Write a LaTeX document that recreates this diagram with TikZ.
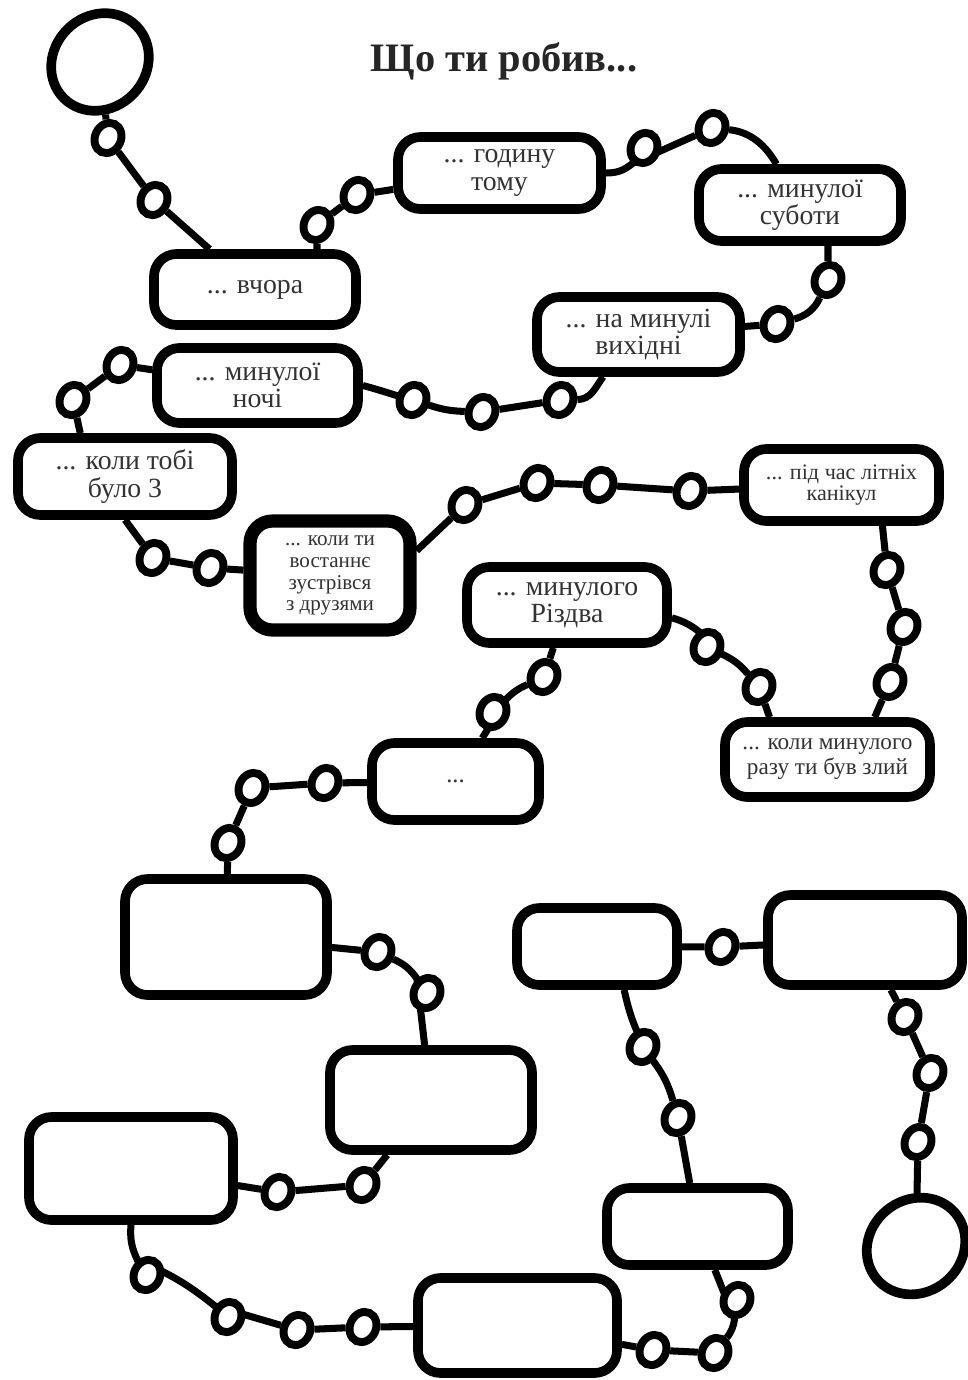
\documentclass[tikz,border=0pt]{standalone}
\usepackage{fontspec}
\setmainfont{Liberation Serif}
\usepackage{tikz}
\usetikzlibrary{shapes.geometric,backgrounds,calc}
\definecolor{InkGray}{HTML}{333333}

\begin{document}
\begin{tikzpicture}[
    tile/.style 2 args={
      draw,
      line width=5.5pt,
      fill=white,
      rounded corners=0.45cm,
      minimum width=#1cm,
      minimum height=#2cm,
      inner sep=0pt,
      align=center,
      text=InkGray,
      font=\fontsize{15.8}{15.5}\selectfont
    },
    stop/.style={
      ellipse,
      draw,
      line width=4.5pt,
      fill=white,
      minimum width=0.52cm,
      minimum height=0.62cm,
      inner sep=0pt,
      rotate=#1
    },
    stop/.default=-25,
    blob/.style={
      ellipse,
      draw,
      line width=5.5pt,
      fill=white,
      minimum width=2.05cm,
      minimum height=1.85cm,
      rotate=#1
    },
    link/.style={
      line width=4pt
    }
  ]

  \useasboundingbox (0,0) rectangle (19.34,-27.6);

  % Title
  \node[font=\bfseries\fontsize{23}{26}\selectfont, text=black!85, anchor=base] (title) at (10.08,-1.44) {Що ти робив...};

  % Start and finish
  \node[blob=45] (start)  at (2.00,-1.24)   {};
  \node[blob=40] (finish) at (18.32,-24.92) {};

  % Boxes with text
  \node[tile={4.04}{1.42}] (vchora)   at (5.10,-5.79)   {... вчора};
  \node[tile={4.06}{1.44}] (hodynu)   at (9.99,-3.46)   {... годину\\тому};
  \node[tile={4.04}{1.44}] (subota)   at (16.00,-4.10)  {... минулої\\суботи};
  \node[tile={4.06}{1.50}] (vykhidni) at (12.77,-6.69)  {... на минулі\\вихідні};
  \node[tile={4.02}{1.50}] (nich)     at (5.15,-7.71)   {... минулої\\ночі};
  \node[tile={4.28}{1.54}] (tobi)     at (2.50,-9.53)   {... коли тобі\\було 3};
  \node[tile={3.20}{2.18}, line width=7.5pt, font=\fontsize{12}{12.4}\selectfont]
                           (druzi)    at (6.60,-11.51)  {... коли ти\\востаннє\\зустрівся\\з друзями};
  \node[tile={3.90}{1.44}, font=\fontsize{12.6}{12.2}\selectfont]
                           (kanikuly) at (16.83,-9.70)  {... під час літніх\\канікул};
  \node[tile={4.10}{1.50}, font=\fontsize{13.2}{14.2}\selectfont]
                           (zlyi)     at (16.55,-15.19) {... коли минулого\\разу ти був злий};
  \node[tile={4.00}{1.52}] (rizdvo)   at (11.34,-12.10) {... минулого\\Різдва};
  \node[tile={3.34}{1.54}, font=\fontsize{14}{16}\selectfont]
                           (dali)     at (9.11,-15.63)  {...};

  % Empty boxes
  \node[tile={4.04}{2.32}] (emptyA) at (4.52,-18.74)  {};
  \node[tile={4.04}{2.00}] (emptyB) at (8.62,-22.00)  {};
  \node[tile={4.08}{2.06}] (emptyC) at (2.62,-23.37)  {};
  \node[tile={3.98}{1.90}] (emptyD) at (10.35,-26.51) {};
  \node[tile={3.62}{1.54}] (emptyE) at (13.95,-24.53) {};
  \node[tile={3.20}{1.54}] (emptyF) at (11.94,-18.93) {};
  \node[tile={3.88}{1.80}] (emptyG) at (17.30,-18.80) {};

  % Stepping stones
  \node[stop] (d1)  at (2.16,-2.76)   {};
  \node[stop] (d2)  at (3.08,-4.00)   {};
  \node[stop] (d3)  at (6.34,-4.50)   {};
  \node[stop] (d4)  at (7.14,-3.90)   {};
  \node[stop] (d5)  at (12.88,-2.96)  {};
  \node[stop] (d6)  at (14.24,-2.56)  {};
  \node[stop] (d7)  at (16.56,-5.60)  {};
  \node[stop] (d8)  at (15.54,-6.48)  {};
  \node[stop] (d9)  at (11.20,-8.00)  {};
  \node[stop] (d10) at (9.64,-8.24)   {};
  \node[stop] (d11) at (8.26,-8.00)   {};
  \node[stop] (d12) at (2.40,-7.30)   {};
  \node[stop] (d13) at (1.46,-8.00)   {};
  \node[stop] (d14) at (3.06,-11.16)  {};
  \node[stop] (d15) at (4.20,-11.36)  {};
  \node[stop] (d16) at (9.30,-10.10)  {};
  \node[stop] (d17) at (10.74,-9.66)  {};
  \node[stop] (d18) at (12.00,-9.70)  {};
  \node[stop] (d19) at (13.80,-9.82)  {};
  \node[stop] (d20) at (17.74,-11.40) {};
  \node[stop] (d21) at (18.08,-12.54) {};
  \node[stop] (d22) at (17.80,-13.64) {};
  \node[stop] (d23) at (15.18,-13.74) {};
  \node[stop] (d24) at (14.14,-12.94) {};
  \node[stop] (d25) at (10.88,-13.54) {};
  \node[stop] (d26) at (9.86,-14.24)  {};
  \node[stop] (d27) at (6.50,-15.66)  {};
  \node[stop] (d28) at (5.04,-15.76)  {};
  \node[stop] (d29) at (4.56,-16.86)  {};
  \node[stop] (d30) at (7.56,-19.04)  {};
  \node[stop] (d31) at (8.54,-19.86)  {};
  \node[stop] (d32) at (7.26,-23.70)  {};
  \node[stop] (d33) at (5.56,-23.84)  {};
  \node[stop] (d34) at (2.94,-25.50)  {};
  \node[stop] (d35) at (4.56,-26.34)  {};
  \node[stop] (d36) at (5.94,-26.60)  {};
  \node[stop] (d37) at (7.26,-26.54)  {};
  \node[stop] (d38) at (13.06,-27.00) {};
  \node[stop] (d39) at (14.30,-27.06) {};
  \node[stop] (d40) at (14.74,-26.00) {};
  \node[stop] (d41) at (13.56,-22.36) {};
  \node[stop] (d42) at (12.86,-20.94) {};
  \node[stop] (d43) at (14.44,-18.94) {};
  \node[stop] (d44) at (18.10,-20.34) {};
  \node[stop] (d45) at (18.60,-21.46) {};
  \node[stop] (d46) at (18.36,-22.84) {};

  % Path
  \begin{scope}[on background layer]
    \draw[link] (start) -- (d1) -- (d2) -- (vchora);
    \draw[link] (d3 |- vchora) -- (d3) -- (d4) -- (hodynu);
    \draw[link] (hodynu.east) to[bend right=20] (d5) -- (d6) to[out=5, in=120] (subota);
    \draw[link] (d7 |- subota) -- (d7) to[out=-100, in=30] (d8) -- (vykhidni);
    \draw[link] (vykhidni.-130) to[out=-125, in=15] (d9) -- (d10) to[bend left=8] (d11)
                to[out=165, in=-15] (nich.east);
    \draw[link] (nich) -- (d12) -- (d13) -- ($(tobi.north west)!.3!(tobi.north east)$);
    \draw[link] (tobi.south) -- (d14) -- (d15) -- (druzi);
    \draw[link] (druzi.16) -- (d16) -- (d17) -- (d18) -- (d19) -- (kanikuly);
    \draw[link] ($(kanikuly.south west)!.7!(kanikuly.south east)$) -- (d20) -- (d21) -- (d22)
                -- ($(zlyi.north west)!.72!(zlyi.north east)$);
    \draw[link] ($(zlyi.north west)!.23!(zlyi.north east)$) -- (d23) to[bend right=12] (d24)
                to[out=135, in=-15] (rizdvo.-7);
    \draw[link] (rizdvo) -- (d25) to[bend right=10] (d26) -- (dali);
    \draw[link] (dali) -- (d27) -- (d28) -- (d29) -- (emptyA);
    \draw[link] (emptyA) -- (d30) to[bend left=15] (d31) -- (emptyB);
    \draw[link] (emptyB) -- (d32) -- (d33) -- (emptyC);
    \draw[link] (emptyC.south) to[bend right=15] (d34) to[bend left=8] (d35) -- (d36) -- (d37) -- (emptyD);
    \draw[link] (emptyD) -- (d38) -- (d39) to[bend right=15] (d40) -- (emptyE);
    \draw[link] (emptyE) -- (d41) to[bend right=10] (d42)
                to[bend left=10] ($(emptyF.south west)!.66!(emptyF.south east)$);
    \draw[link] (emptyF) -- (d43) -- (emptyG);
    \draw[link] (emptyG) -- (d44) -- (d45) -- (d46) -- (finish);
  \end{scope}

\end{tikzpicture}
\end{document}
